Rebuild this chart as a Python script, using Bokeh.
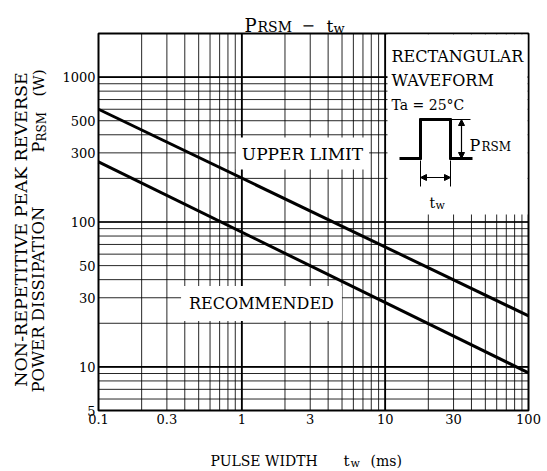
import math
from bokeh.plotting import figure
from bokeh.models import Range1d, Label, BoxAnnotation, Arrow, NormalHead
from bokeh.core.properties import value
from bokeh.embed import file_html
from bokeh.resources import INLINE

# ---- data ----
pulse_width = [0.1, 100]          # ms
upper_limit = [600, 22.5]         # W
recommended = [260, 9.1]          # W

x_ticks = [0.1, 0.3, 1, 3, 10, 30, 100]
x_tick_labels = ["0.1", "0.3", "1", "3", "10", "30", "100"]
y_ticks = [5, 10, 30, 50, 100, 300, 500, 1000]
y_tick_labels = ["5", "10", "30", "50", "100", "300", "500", "1000"]

X0, X1 = 0.1, 100      # axis limits
Y0, Y1 = 5, 2000

FONT = "DejaVu Serif"

# ---- layout (page pixels) ----
W, H = 545, 469
PL, PR, PT, PB = 98, 528, 33, 410   # plot box edges

lx0, lx1 = math.log10(X0), math.log10(X1)
ly0, ly1 = math.log10(Y0), math.log10(Y1)
kx = (PR - PL) / (lx1 - lx0)
ky = (PB - PT) / (ly1 - ly0)
x_range = Range1d(10 ** (lx0 - PL / kx), 10 ** (lx1 + (W - PR) / kx))
y_range = Range1d(10 ** (ly0 - (H - PB) / ky), 10 ** (ly1 + PT / ky))

p = figure(width=W, height=H, x_axis_type="log", y_axis_type="log",
           x_axis_location=None, y_axis_location=None,
           x_range=x_range, y_range=y_range, min_border=0,
           output_backend="svg", toolbar_location=None)
p.background_fill_color = "white"
p.border_fill_color = "white"
p.outline_line_color = None
p.xgrid.visible = False
p.ygrid.visible = False

# grid lines (1..9 per decade)
x_grid = sorted(set(round(m * 10.0 ** e, 6) for e in (-1, 0, 1) for m in range(1, 10)))[1:]
y_grid = sorted(set(round(m * 10.0 ** e, 6) for e in (0, 1, 2) for m in range(1, 10) if m * 10 ** e > Y0) | {1000.0})
x_dec = [1, 10]
y_dec = [10, 100, 1000]

p.segment(x0=x_grid, x1=x_grid, y0=[Y0] * len(x_grid), y1=[Y1] * len(x_grid),
          line_color="black", line_width=1, line_alpha=0.85, level="underlay")
p.segment(x0=[X0] * len(y_grid), x1=[X1] * len(y_grid), y0=y_grid, y1=y_grid,
          line_color="black", line_width=1, line_alpha=0.85, level="underlay")
p.segment(x0=x_dec, x1=x_dec, y0=[Y0] * len(x_dec), y1=[Y1] * len(x_dec),
          line_color="black", line_width=1.8, level="underlay")
p.segment(x0=[X0] * len(y_dec), x1=[X1] * len(y_dec), y0=y_dec, y1=y_dec,
          line_color="black", line_width=1.6, level="underlay")

# curves
p.line(pulse_width, upper_limit, line_color="black", line_width=3)
p.line(pulse_width, recommended, line_color="black", line_width=3)

# plot box
p.quad(left=[X0], right=[X1], bottom=[Y0], top=[Y1], fill_color=None,
       line_color="black", line_width=2)

# tick labels
p.text(x=x_ticks, y=[Y0] * len(x_ticks), text=x_tick_labels, text_align="center",
       text_baseline="top", y_offset=3, text_font=value(FONT), text_font_size="13px",
       text_color="black")
p.text(x=[X0] * len(y_ticks), y=y_ticks, text=y_tick_labels, text_align="right",
       text_baseline="middle", x_offset=-3, text_font=value(FONT), text_font_size="13px",
       text_color="black")


def lab(text, px, py, size, align="left", baseline="alphabetic", angle=0.0, **kw):
    p.add_layout(Label(x=px, y=H - py, x_units="screen", y_units="screen", text=text,
                       text_font=FONT, text_font_size=f"{size}px", text_align=align,
                       text_baseline=baseline, angle=angle, text_color="black", **kw))


def seg(p1, p2, w=1.0, heads=False):
    kw = {}
    if heads:
        kw["start"] = NormalHead(size=6, fill_color="black", line_color="black")
        kw["end"] = NormalHead(size=6, fill_color="black", line_color="black")
    else:
        kw["start"] = None
        kw["end"] = None
    p.add_layout(Arrow(x_start=p1[0], y_start=H - p1[1], x_end=p2[0], y_end=H - p2[1],
                       start_units="screen", end_units="screen", line_width=w,
                       line_color="black", **kw))


# curve labels with white boxes
lab("UPPER LIMIT", 302, 153, 17, align="center", baseline="middle",
    background_fill_color="white", padding=6)
lab("RECOMMENDED", 261, 303, 16, align="center", baseline="middle",
    background_fill_color="white", padding=8)

# inset box
p.add_layout(BoxAnnotation(left=387, right=527, bottom=H - 214, top=H - 34,
                           left_units="screen", right_units="screen",
                           bottom_units="screen", top_units="screen",
                           fill_color="white", fill_alpha=1.0, line_color=None))
lab("RECTANGULAR", 391, 56, 16)
lab("WAVEFORM", 391, 80, 16)
lab("Ta = 25°C", 391, 104, 14)

# waveform icon
seg((399, 158), (421, 158), 3)
seg((420, 159), (420, 118), 3)
seg((419, 119), (451, 119), 3)
seg((450, 118), (450, 159), 3)
seg((449, 158), (472, 158), 3)
seg((450, 119), (470, 119), 1)
seg((461, 119), (461, 158), 1.2, heads=True)
seg((420, 160), (420, 186), 1)
seg((450, 160), (450, 186), 1)
seg((420, 177), (450, 177), 1.2, heads=True)
lab("P", 469, 145, 16)
lab("RSM", 481, 146, 12)
lab("t", 429, 202, 14)
lab("w", 435, 205, 11)

# title
lab("P", 244, 25, 18)
lab("RSM", 257, 26, 14)
lab("\u2212", 301, 24, 16)
lab("t", 326, 25, 17)
lab("w", 333, 28, 13)

# x axis title
lab("PULSE WIDTH", 210, 460, 14)
lab("t", 343, 460, 15)
lab("w", 350, 463, 11)
lab("(ms)", 370, 460, 14)

# y axis title (rotated)
A = math.pi / 2
lab("NON-REPETITIVE PEAK REVERSE", 20, 229, 17.5, align="center", baseline="middle", angle=A)
lab("POWER DISSIPATION", 38, 392, 16.5, baseline="middle", angle=A)
lab("P", 38, 152, 16, baseline="middle", angle=A)
lab("RSM", 41, 141, 12, baseline="middle", angle=A)
lab("(W)", 38, 96, 15, baseline="middle", angle=A)

open("out.html", "w").write(file_html(p, INLINE))
